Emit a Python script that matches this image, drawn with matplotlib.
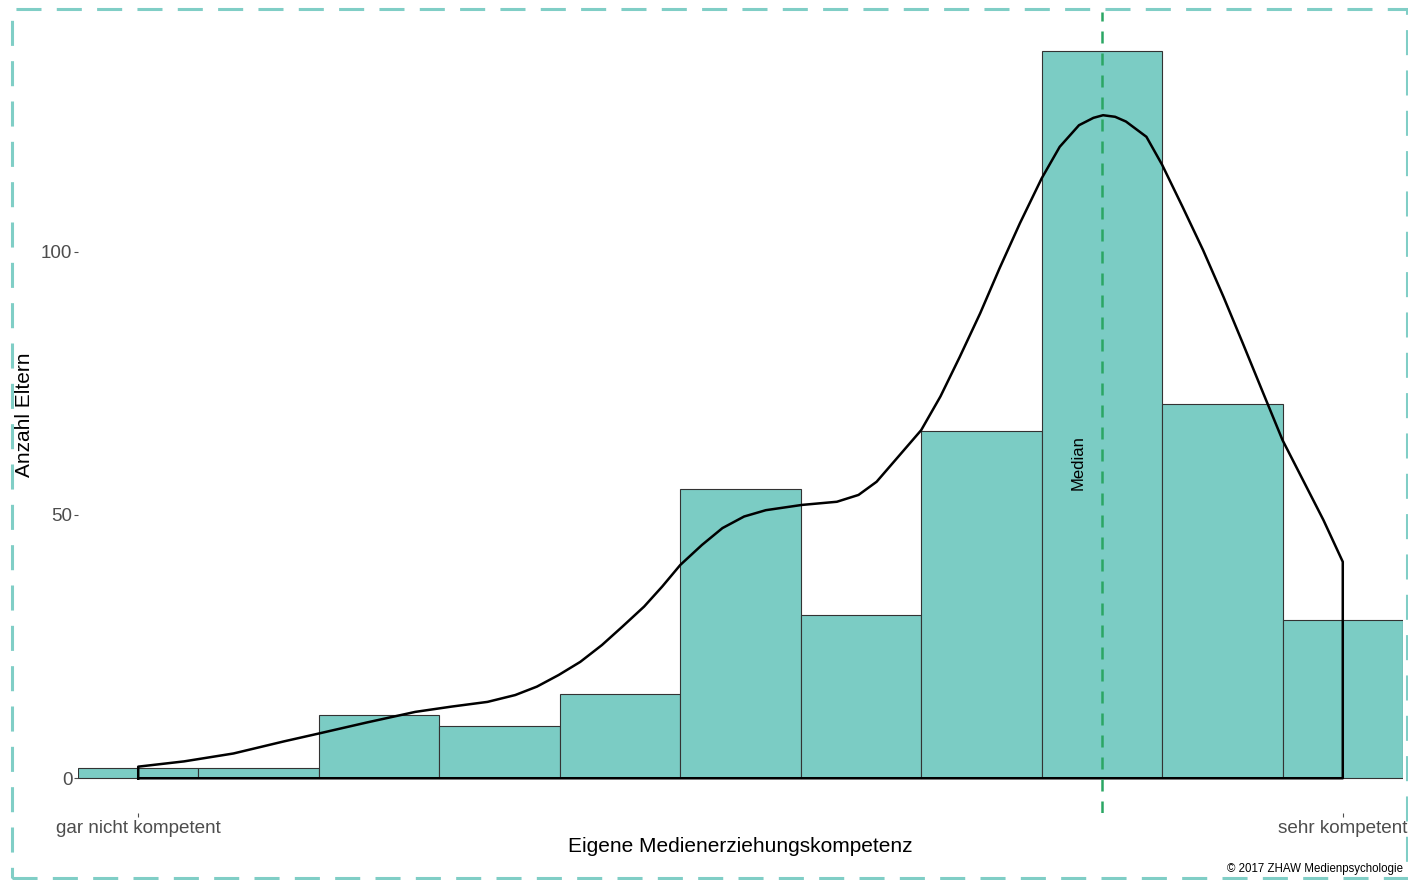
#histogram of parents' self-rated media education competence
import matplotlib
matplotlib.use('Agg')
import matplotlib.pyplot as plt
from matplotlib.patches import Rectangle
import numpy as np

plt.rcParams['font.family'] = ['Liberation Sans', 'DejaVu Sans']

# data
score = list(range(11))
counts = [2, 2, 12, 10, 16, 55, 31, 66, 138, 71, 30]
tick_pos = [0, 10]
tick_labels = ['gar nicht kompetent', 'sehr kompetent']
median = 8

# density curve (scaled to counts)
dens_x = [0, 0.38, 0.79, 1.21, 1.50, 1.90, 2.30, 2.60, 2.90, 3.13, 3.31, 3.49,
          3.67, 3.85, 4.02, 4.20, 4.35, 4.50, 4.68, 4.85, 5.03, 5.21, 5.51,
          5.80, 5.98, 6.13, 6.30, 6.50, 6.66, 6.82, 6.99, 7.15, 7.32, 7.50,
          7.65, 7.81, 7.93, 8.01, 8.11, 8.20, 8.37, 8.50, 8.67, 8.84, 9.01,
          9.17, 9.34, 9.50, 9.67, 9.84, 10.0]
dens_y = [2.2, 3.2, 4.7, 7.0, 8.5, 10.6, 12.6, 13.6, 14.5, 15.8, 17.4, 19.6,
          22.1, 25.3, 28.8, 32.6, 36.4, 40.5, 44.3, 47.5, 49.7, 50.9, 51.9,
          52.5, 53.8, 56.3, 60.8, 66.1, 72.5, 80.0, 88.3, 96.8, 105.4, 113.9,
          119.9, 124.0, 125.4, 125.9, 125.6, 124.7, 121.8, 116.5, 108.5, 100.3, 91.4,
          82.6, 73.1, 64.2, 56.6, 49.0, 41.1]

fill_col = '#7BCCC4'
frame_col = '#80CEC6'
median_col = '#2BA664'

W, H = 1408, 880
fig = plt.figure(figsize=(W / 100, H / 100), dpi=100)
ax = fig.add_axes([78 / W, 1 - 813 / H, (1403 - 78) / W, (813 - 12) / H])

ax.bar(score, counts, width=1, color=fill_col, edgecolor='#333333', linewidth=0.8, zorder=2)

# closed density outline, like geom_density
px = np.concatenate([[dens_x[0]], dens_x, [dens_x[-1], dens_x[0]]])
py = np.concatenate([[0], dens_y, [0, 0]])
ax.plot(px, py, color='black', lw=1.8, zorder=3, solid_joinstyle='round')

ax.axvline(median, color=median_col, lw=1.8, linestyle=(0, (4.8, 4.0)), zorder=4)
ax.text(median - 0.2, 60, 'Median', rotation=90, ha='center', va='center', fontsize=12, color='black', zorder=5)

ax.set_xlim(-0.5, 10.5)
ax.set_ylim(-6.6, 145.5)
ax.set_xticks(tick_pos)
ax.set_xticklabels(tick_labels)
ax.set_yticks([0, 50, 100])
for s in ax.spines.values():
    s.set_visible(False)
ax.tick_params(axis='both', length=3, width=0.8, color='#4D4D4D', labelcolor='#4D4D4D', labelsize=13.6)
ax.tick_params(axis='y', pad=1)
ax.tick_params(axis='x', pad=2)
ax.patch.set_alpha(0)

fig.text(740.5 / W, 1 - 846 / H, 'Eigene Medienerziehungskompetenz', ha='center', va='center', fontsize=15)
fig.text(25 / W, 1 - 415 / H, 'Anzahl Eltern', ha='center', va='center', rotation=90, fontsize=15)
fig.text(1403 / W, 1 - 869 / H, '\u00a9 2017 ZHAW Medienpsychologie', ha='right', va='center', fontsize=8.3)

# dashed border round the whole plot
frame = Rectangle((12 / W, 1 - 878 / H), (1407 - 12) / W, (878 - 9) / H, transform=fig.transFigure,
                  fill=False, edgecolor=frame_col, lw=2.2, linestyle=(0, (8.2, 5.0)), zorder=0)
fig.patches.append(frame)

fig.savefig('out.png', dpi=100)
